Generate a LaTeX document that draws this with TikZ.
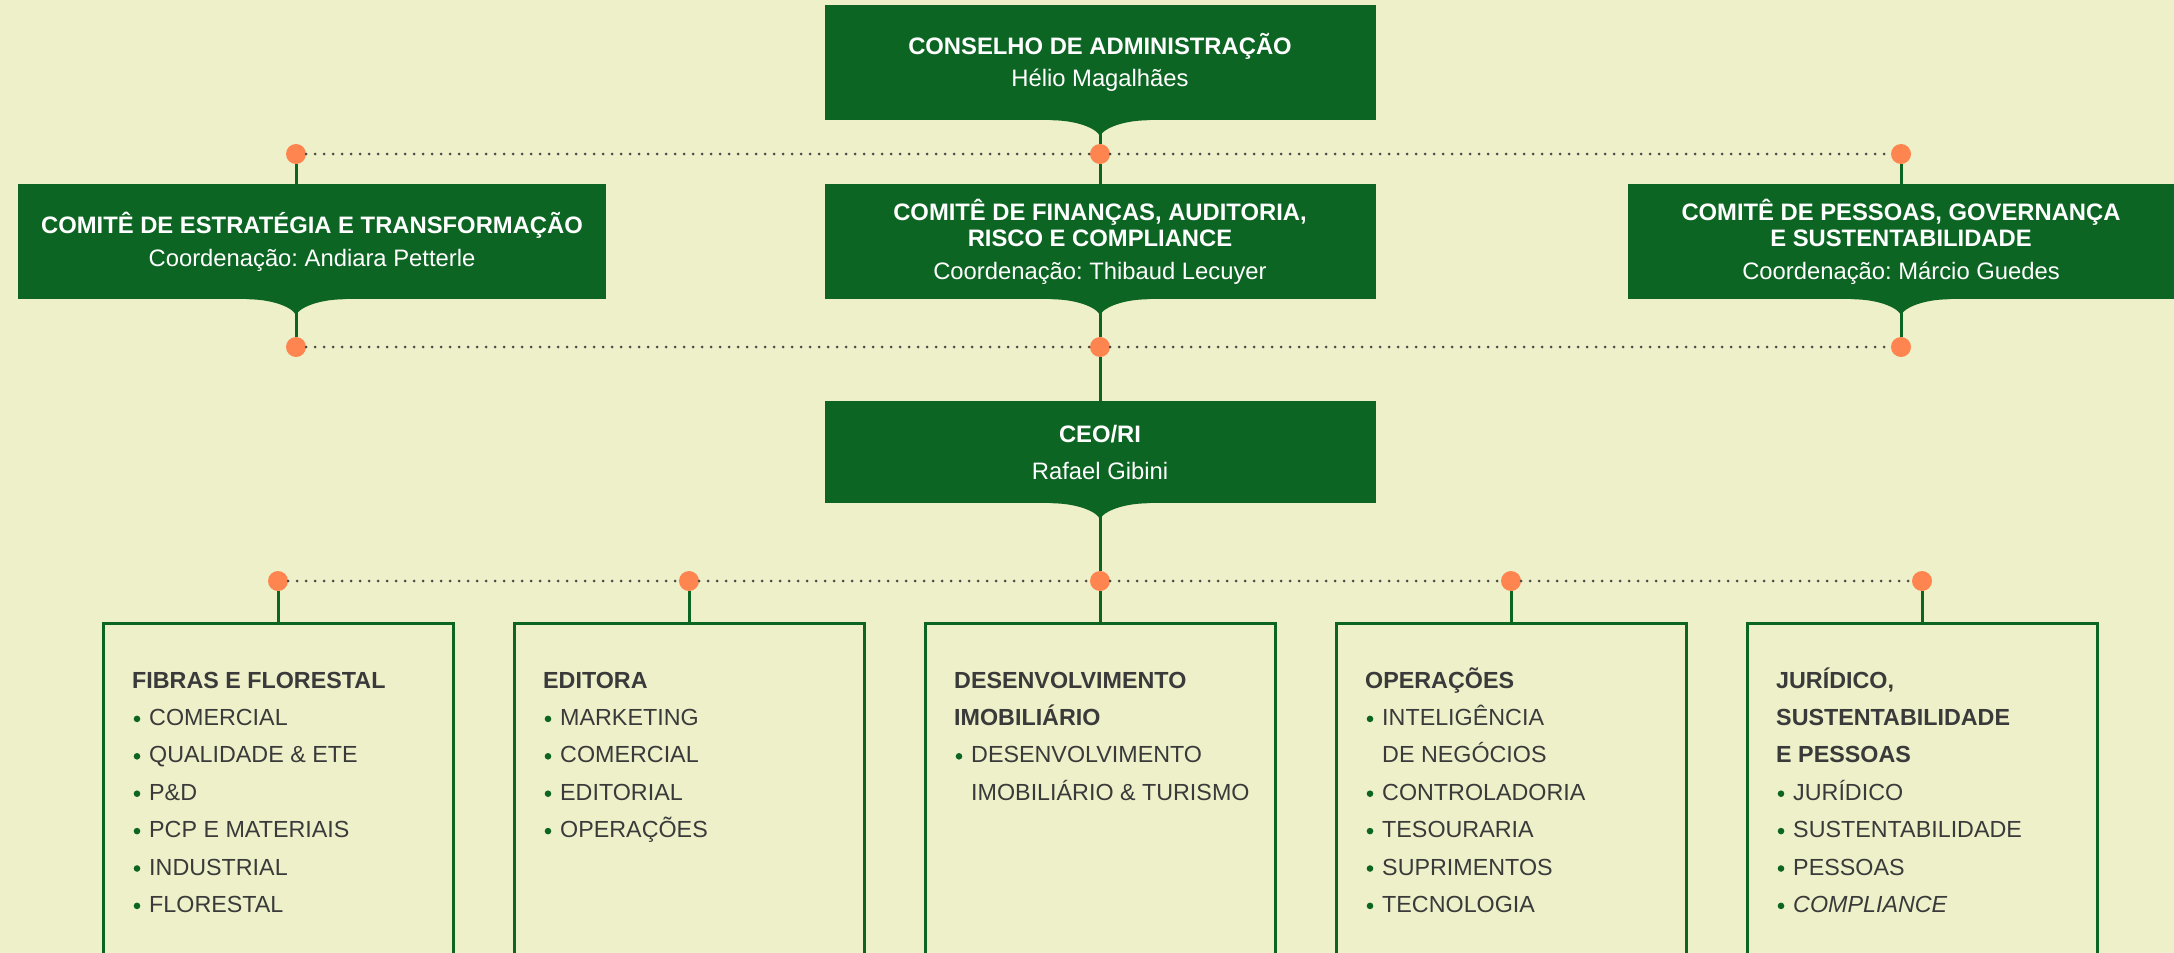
\documentclass[tikz,border=0pt]{standalone}
\usepackage{fontspec}
\setmainfont{Liberation Sans}
\usepackage{tikz}
\frenchspacing

\definecolor{pagebg}{HTML}{EEF0C9}
\definecolor{boardgreen}{HTML}{0C6522}
\definecolor{linkorange}{HTML}{FF8550}
\definecolor{textgray}{HTML}{3A3A3A}
\definecolor{dotgray}{HTML}{4A4A4A}

\tikzset{
  topbox/.style={fill=boardgreen, text=white, inner sep=0pt, align=center,
    minimum height=115, font=\fontsize{23.8}{26}\selectfont},
  unitbox/.style={draw=boardgreen, line width=3, anchor=north,
    minimum width=350, minimum height=345},
  linkdot/.style={circle, fill=linkorange, minimum size=20, inner sep=0pt},
  connector/.style={draw=boardgreen, line width=3},
  dotline/.style={draw=dotgray, line width=3, line cap=round, dash pattern=on 0pt off 9pt},
  unithead/.style={anchor=base west, inner sep=0pt, text=textgray,
    font=\fontsize{23.3}{26}\selectfont\bfseries},
  unititem/.style={anchor=base west, inner sep=0pt, text=textgray,
    font=\fontsize{23.3}{26}\selectfont},
}

\begin{document}
\begin{tikzpicture}[x=1pt,y=-1pt]
  \useasboundingbox (0,0) rectangle (2174,953);
  \fill[pagebg] (0,0) rectangle (2174,953);

  % board and committees
  \node[topbox, minimum width=551] (conselho) at (1100,62.5)
    {\bfseries CONSELHO DE ADMINISTRAÇÃO\\[6pt] Hélio Magalhães};
  \node[topbox, minimum width=588] (estr) at (312,241.5)
    {\bfseries COMITÊ DE ESTRATÉGIA E TRANSFORMAÇÃO\\[7pt] Coordenação: Andiara Petterle};
  \node[topbox, minimum width=551] (fin) at (1100,241.5)
    {\bfseries COMITÊ DE FINANÇAS, AUDITORIA,\\ \bfseries RISCO E COMPLIANCE\\[7pt] Coordenação: Thibaud Lecuyer};
  \node[topbox, minimum width=546] (pess) at (1901,241.5)
    {\bfseries COMITÊ DE PESSOAS, GOVERNANÇA\\ \bfseries E SUSTENTABILIDADE\\[7pt] Coordenação: Márcio Guedes};
  \node[topbox, minimum width=551, minimum height=102] (ceo) at (1100,452)
    {\bfseries CEO/RI\\[11pt] Rafael Gibini};

  % joints
  \node[linkdot] (t1) at (296,154) {};
  \node[linkdot] (t2) at (1100,154) {};
  \node[linkdot] (t3) at (1901,154) {};
  \node[linkdot] (m1) at (296,347) {};
  \node[linkdot] (m2) at (1100,347) {};
  \node[linkdot] (m3) at (1901,347) {};

  % directorates
  \foreach \nm [count=\i from 0] in {fib,edit,imob,oper,jur} {
    \node[linkdot] (d\nm) at (278+411*\i,581) {};
    \node[unitbox] (\nm) at (278+411*\i,622) {};
    \draw[connector] (d\nm) -- (\nm.north);
  }

  % tabs under the green boxes
  \foreach \bx/\d in {conselho/t2, estr/t1, fin/t2, pess/t3, ceo/dimob}
    \fill[boardgreen] (\bx.south -| \d) ++(-50,0) .. controls +(32,0) and +(0,-6) .. ++(50,17)
      .. controls +(0,-6) and +(-32,0) .. ++(50,-17) -- cycle;

  \draw[dotline] (t1) -- (t2) -- (t3);
  \draw[dotline] (m1) -- (m2) -- (m3);
  \draw[dotline] (dfib) -- (dedit) -- (dimob) -- (doper) -- (djur);

  \draw[connector] (conselho.south) -- (t2);
  \draw[connector] (t1) -- (t1 |- estr.north);
  \draw[connector] (t2) -- (fin.north);
  \draw[connector] (t3) -- (t3 |- pess.north);
  \draw[connector] (m1 |- estr.south) -- (m1);
  \draw[connector] (fin.south) -- (m2);
  \draw[connector] (m3 |- pess.south) -- (m3);
  \draw[connector] (m2) -- (ceo.north);
  \draw[connector] (ceo.south) -- (dimob);

  % texts in the directorates
  \foreach \k/\i/\t in {0/0/FIBRAS E FLORESTAL, 1/0/EDITORA, 2/0/DESENVOLVIMENTO, 2/1/IMOBILIÁRIO,
      3/0/OPERAÇÕES, 4/0/{JURÍDICO,}, 4/1/SUSTENTABILIDADE, 4/2/E PESSOAS}
    \node[unithead] (head-\k-\i) at (132+411*\k,688+37.4*\i) {\t};
  \foreach \k/\i/\t in {0/1/COMERCIAL, 0/2/QUALIDADE \& ETE, 0/3/P\&D, 0/4/PCP E MATERIAIS,
      0/5/INDUSTRIAL, 0/6/FLORESTAL, 1/1/MARKETING, 1/2/COMERCIAL, 1/3/EDITORIAL, 1/4/OPERAÇÕES,
      2/2/DESENVOLVIMENTO, 3/1/INTELIGÊNCIA, 3/3/CONTROLADORIA, 3/4/TESOURARIA, 3/5/SUPRIMENTOS,
      3/6/TECNOLOGIA, 4/3/JURÍDICO, 4/4/SUSTENTABILIDADE, 4/5/PESSOAS, 4/6/\textit{COMPLIANCE}} {
    \fill[boardgreen] (137+411*\k,681.5+37.4*\i) circle (3.3);
    \node[unititem] (item-\k-\i) at (149+411*\k,688+37.4*\i) {\t};
  }
  \foreach \k/\i/\t in {2/3/IMOBILIÁRIO \& TURISMO, 3/2/DE NEGÓCIOS}
    \node[unititem] (item-\k-\i) at (149+411*\k,688+37.4*\i) {\t};
\end{tikzpicture}
\end{document}
